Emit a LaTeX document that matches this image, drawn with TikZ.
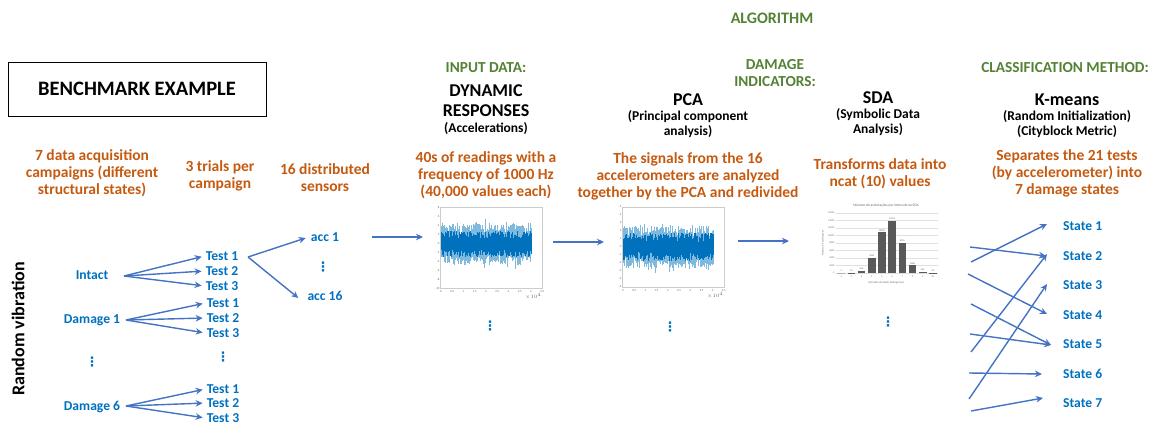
\documentclass[tikz,border=0pt]{standalone}
\usepackage{fontspec}
\setmainfont{Carlito}
\newfontfamily\dejavu{DejaVu Sans}
\usetikzlibrary{arrows.meta}
\definecolor{orgc}{HTML}{C55A11}
\definecolor{grn}{HTML}{548235}
\definecolor{blu}{HTML}{0070C0}
\definecolor{arrc}{HTML}{4472C4}
\definecolor{sig}{HTML}{0072BD}
\definecolor{barc}{HTML}{595959}
\tikzset{
  orange/.style={text=orgc,font=\bfseries\fontsize{15.5}{17}\selectfont,align=center,inner sep=0pt},
  greenhead/.style={text=grn,font=\bfseries\fontsize{15.3}{16.5}\selectfont,align=center,inner sep=0pt},
  bigtitle/.style={text=black,font=\bfseries\fontsize{18}{20}\selectfont,align=center,inner sep=0pt},
  subtitle/.style={text=black,font=\bfseries\fontsize{13.5}{15}\selectfont,align=center,inner sep=0pt},
  bluetext/.style={text=blu,font=\bfseries\fontsize{13.6}{15}\selectfont,inner sep=1pt},
  vdotsnode/.style={text=blu,font=\dejavu\bfseries\fontsize{13}{14}\selectfont,inner sep=0pt},
  arr/.style={draw=arrc,line width=1.4pt,-{Stealth[length=7pt,width=6.5pt]}},
  tiny/.style={font=\fontsize{3}{3.5}\selectfont,text=black!60,inner sep=0.5pt},
  frame/.style={draw=black!20,line width=0.3pt}
}
\begin{document}
\begin{tikzpicture}[x=1pt,y=-1pt]
\useasboundingbox (0,0) rectangle (1158,426);

% headings
\node[greenhead,font=\bfseries\fontsize{16}{17}\selectfont] (alg) at (772,18) {ALGORITHM};
\node[draw=black,line width=0.8pt,minimum width=258pt,minimum height=54pt,inner sep=0pt,
      font=\bfseries\fontsize{20.5}{22}\selectfont] (bench) at (137,89) {BENCHMARK EXAMPLE};

\node[orange] (o1) at (92,173) {7 data acquisition\\campaigns (different\\structural states)};
\node[orange] (o2) at (220,175.5) {3 trials per\\campaign};
\node[orange] (o3) at (325,177.5) {16 distributed\\sensors};

\node[greenhead] (g1) at (486,68) {INPUT DATA:};
\node[bigtitle] (t1) at (486,101) {DYNAMIC\\RESPONSES};
\node[subtitle] (st1) at (486,129) {(Accelerations)};
\node[orange] (o4) at (486,175) {40s of readings with a\\frequency of 1000 Hz\\(40,000 values each)};

\node[greenhead] (g2) at (775,73) {DAMAGE\\INDICATORS:};
\node[bigtitle] (t2) at (688,100) {PCA};
\node[subtitle] (st2) at (688,124.5) {(Principal component\\analysis)};
\node[orange] (o5) at (688,176) {The signals from the 16\\accelerometers are analyzed\\together by the PCA and redivided};

\node[bigtitle] (t3) at (878,98) {SDA};
\node[subtitle] (st3) at (878,122.5) {(Symbolic Data\\Analysis)};
\node[orange] (o6) at (880,173.5) {Transforms data into\\ncat (10) values};

\node[greenhead] (g3) at (1065,68) {CLASSIFICATION METHOD:};
\node[bigtitle] (t4) at (1067,100) {K-means};
\node[subtitle] (st4) at (1067,124.5) {(Random Initialization)\\(Cityblock Metric)};
\node[orange] (o7) at (1067,173.5) {Separates the 21 tests\\(by accelerometer) into\\7 damage states};

% Random vibration
\node[rotate=90,font=\bfseries\fontsize{18}{20}\selectfont,inner sep=0pt] (rv) at (18,329) {Random vibration};

% tree
\node[bluetext] (intact) at (92,275) {Intact};
\node[bluetext] (dam1) at (92,320) {Damage 1};
\node[bluetext] (dam6) at (92,407) {Damage 6};
\node[vdotsnode] (vd1) at (92,362) {⋮};

\node[bluetext] (a1) at (222,256) {Test 1};
\node[bluetext] (a2) at (222,271) {Test 2};
\node[bluetext] (a3) at (222,286) {Test 3};
\node[bluetext] (b1) at (223,303) {Test 1};
\node[bluetext] (b2) at (223,318) {Test 2};
\node[bluetext] (b3) at (223,333) {Test 3};
\node[vdotsnode] (vd2) at (223,357) {⋮};
\node[bluetext] (c1) at (223,389) {Test 1};
\node[bluetext] (c2) at (223,403) {Test 2};
\node[bluetext] (c3) at (223,418) {Test 3};

\coordinate (fi) at (124,276);
\coordinate (fd1) at (126,320);
\coordinate (fd6) at (126,406);
\foreach \s/\t in {fi/a1,fi/a2,fi/a3,fd1/b1,fd1/b2,fd1/b3,fd6/c1,fd6/c2,fd6/c3}
  \draw[arr,shorten >=3pt] (\s) -- (\t.west);

\node[bluetext] (acc1) at (325,237) {acc 1};
\node[vdotsnode] (vd3) at (323,267) {⋮};
\node[bluetext] (acc16) at (325,296) {acc 16};
\coordinate (ta) at (248,257);
\draw[arr] (ta) -- ([xshift=-4pt,yshift=-1pt]acc1.west);
\draw[arr] (ta) -- ([xshift=-8pt,yshift=-2pt]acc16.west);

% plot 1
\node[frame,minimum width=102pt,minimum height=81pt,inner sep=0pt] (p1) at (491,248) {};
\pgfmathsetseed{11}
\foreach \i in {0,...,180}{
  \pgfmathsetmacro\xx{441+\i*0.5}
  \pgfmathsetmacro\ua{8+12*rnd+8*rnd*rnd*rnd}
  \pgfmathsetmacro\da{8+12*rnd+8*rnd*rnd*rnd}
  \draw[sig!50,line width=0.5pt] (\xx,244-\ua) -- (\xx,244+\da);
}
\foreach \i in {0,...,180}{
  \pgfmathsetmacro\xx{441+\i*0.5}
  \pgfmathsetmacro\ua{4+9*rnd}
  \pgfmathsetmacro\da{4+9*rnd}
  \draw[sig,line width=0.6pt] (\xx,244-\ua) -- (\xx,244+\da);
}
\foreach \v [count=\k from 0] in {8,6,4,2,0,-2,-4,-6,-8,-10}
  \node[tiny,anchor=east] at (440,207.5+\k*9) {\v};
\foreach \v [count=\k from 0] in {0,0.5,1,1.5,2,2.5,3,3.5,4,4.5}
  \node[tiny,anchor=north] at (441+\k*11.25,289.5) {\v};
\node[tiny,anchor=north east] at (542,293) {$\times10^4$};

% plot 2
\node[frame,minimum width=102pt,minimum height=80pt,inner sep=0pt] (p2) at (673,247) {};
\pgfmathsetseed{23}
\foreach \i in {0,...,180}{
  \pgfmathsetmacro\xx{623+\i*0.5}
  \pgfmathsetmacro\ua{9+12*rnd+8*rnd*rnd*rnd}
  \pgfmathsetmacro\da{9+12*rnd+8*rnd*rnd*rnd}
  \draw[sig!50,line width=0.5pt] (\xx,247-\ua) -- (\xx,247+\da);
}
\foreach \i in {0,...,180}{
  \pgfmathsetmacro\xx{623+\i*0.5}
  \pgfmathsetmacro\ua{5+9*rnd}
  \pgfmathsetmacro\da{5+9*rnd}
  \draw[sig,line width=0.6pt] (\xx,247-\ua) -- (\xx,247+\da);
}
\foreach \v [count=\k from 0] in {5,4,3,2,1,0,-1,-2,-3,-4,-5}
  \node[tiny,anchor=east] at (622,207+\k*8) {\v};
\foreach \v [count=\k from 0] in {0,0.5,1,1.5,2,2.5,3,3.5,4,4.5}
  \node[tiny,anchor=north] at (623+\k*11.2,288.5) {\v};
\node[tiny,anchor=north east] at (724,292) {$\times10^4$};

% histogram
\node[tiny,font=\fontsize{3.6}{4}\selectfont] (htitle) at (886,206) {Número de acelerações por intervalo na SDA};
\foreach \k in {0,...,8}{
  \draw[black!12,line width=0.25pt] (836,273-\k*7.5) -- (938,273-\k*7.5);
  \pgfmathtruncatemacro\lab{\k*2000}
  \node[tiny,font=\fontsize{2.4}{3}\selectfont,anchor=east] at (835,273-\k*7.5) {\lab};
}
\foreach \val [count=\k] in {5,53,650,4036,10834,13955,8035,2068,269,20}{
  \pgfmathsetmacro\cx{836+(\k-0.5)*10.2}
  \pgfmathsetmacro\hh{\val/16000*60}
  \fill[barc] (\cx-3.8,273) rectangle (\cx+3.8,273-\hh);
  \node[tiny,font=\fontsize{2.4}{3}\selectfont,anchor=south] at (\cx,273-\hh-0.5) {\val};
  \node[tiny,font=\fontsize{2.4}{3}\selectfont,anchor=north] at (\cx,275) {\k};
}
\node[tiny,font=\fontsize{2.8}{3}\selectfont] (hx) at (886,282.5) {Intervalo de dados (Categorias)};
\node[tiny,font=\fontsize{2.6}{3}\selectfont,rotate=90] (hy) at (823,243) {Número de acelerações};

% arrows between stages
\coordinate (s1) at (372,237);
\coordinate (e1) at (423,237);
\coordinate (s2) at (553,242);
\coordinate (e2) at (604,242);
\coordinate (s3) at (738,241);
\coordinate (e3) at (789,241);
\draw[arr] (s1) -- (e1);
\draw[arr] (s2) -- (e2);
\draw[arr] (s3) -- (e3);

\node[vdotsnode] (vd4) at (490,326) {⋮};
\node[vdotsnode] (vd5) at (670,327) {⋮};
\node[vdotsnode] (vd6) at (888,322) {⋮};

% states
\foreach \n/\yy in {1/226,2/256,3/285,4/315,5/344,6/374,7/403}
  \node[bluetext,anchor=west,inner sep=0pt] (st\n) at (1063,\yy) {State \n};

\coordinate (l1) at (970,247);
\coordinate (l2) at (971,262);
\coordinate (l3) at (968,274);
\coordinate (l4) at (971,304);
\coordinate (l5) at (970,334);
\coordinate (l6) at (971,352);
\coordinate (l7) at (969,373);
\coordinate (l8) at (969,399);
\coordinate (l9) at (971,411);
\draw[arr] (l1) -- ([xshift=-17pt,yshift=0pt]st2.west);
\draw[arr] (l2) -- ([xshift=-16pt,yshift=2pt]st1.west);
\draw[arr] (l3) -- ([xshift=-16pt,yshift=1pt]st4.west);
\draw[arr] (l4) -- ([xshift=-12pt,yshift=-1pt]st5.west);
\draw[arr] (l5) -- ([xshift=-12pt,yshift=-1pt]st5.west);
\draw[arr] (l6) -- ([xshift=-16pt,yshift=2pt]st2.west);
\draw[arr] (l7) -- ([xshift=-21pt]st6.west);
\draw[arr] (l8) -- ([xshift=-16pt,yshift=1pt]st3.west);
\draw[arr] (l9) -- ([xshift=-20pt,yshift=5pt]st7.west);
\end{tikzpicture}
\end{document}
